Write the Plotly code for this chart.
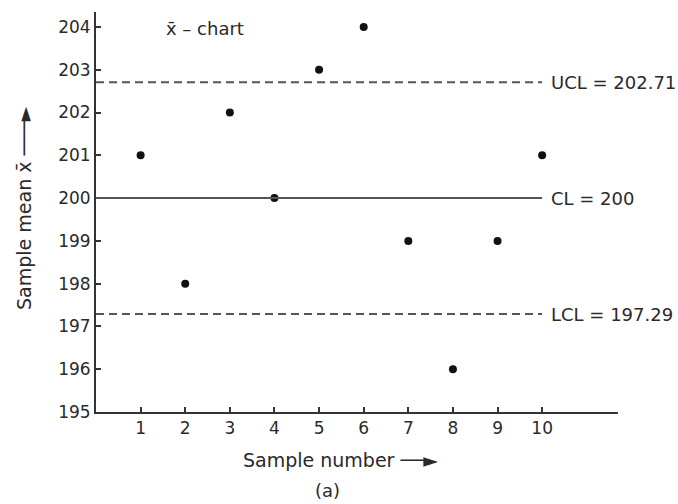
import plotly.graph_objects as go

samples = [1, 2, 3, 4, 5, 6, 7, 8, 9, 10]
means = [201, 198, 202, 200, 203, 204, 199, 196, 199, 201]
cl = 200
ucl = 202.71
lcl = 197.29
y_ticks = [195, 196, 197, 198, 199, 200, 201, 202, 203, 204]

FONT = "DejaVu Sans"
TXT = "#2a2a2a"

fig = go.Figure()
fig.add_trace(go.Scatter(
    x=samples, y=means, mode="markers",
    marker=dict(color="#111111", size=8),
    showlegend=False, hoverinfo="skip",
))

for val, dash, lab in [(ucl, "8px,5px", f"UCL = {ucl}"),
                       (cl, "solid", f"CL = {cl}"),
                       (lcl, "8px,5px", f"LCL = {lcl}")]:
    fig.add_shape(type="line", xref="x", yref="y", x0=0, x1=samples[-1],
                  y0=val, y1=val,
                  line=dict(color="#555555", width=2, dash=dash))
    fig.add_annotation(x=samples[-1] + 0.15, y=val, xref="x", yref="y",
                       text=lab, showarrow=False, xanchor="left", yanchor="middle",
                       font=dict(family=FONT, size=18, color=TXT))

fig.add_annotation(x=0.209, y=0.96, xref="paper", yref="paper",
                   xanchor="center", yanchor="middle",
                   text="x\u0304 \u2013 chart", showarrow=False,
                   font=dict(family=FONT, size=18, color=TXT))
fig.add_annotation(x=-0.138, y=0.51, xref="paper", yref="paper",
                   xanchor="center", yanchor="middle",
                   text="Sample mean x\u0304 \u2500\u2500\u2500\u25ba", showarrow=False,
                   textangle=-90,
                   font=dict(family=FONT, size=19, color=TXT))
fig.add_annotation(x=0.469, y=-0.12, xref="paper", yref="paper",
                   xanchor="center", yanchor="middle",
                   text="Sample number \u2500\u2500\u25ba", showarrow=False,
                   font=dict(family=FONT, size=19, color=TXT))
fig.add_annotation(x=0.444, y=-0.195, xref="paper", yref="paper",
                   xanchor="center", yanchor="middle",
                   text="(a)", showarrow=False,
                   font=dict(family=FONT, size=18, color=TXT))

fig.update_layout(
    width=678, height=504,
    margin=dict(l=96, r=60, t=12, b=92),
    paper_bgcolor="white", plot_bgcolor="white",
    font=dict(family=FONT, size=17, color=TXT),
)
fig.update_xaxes(
    range=[0, 11.7], tickvals=samples, ticktext=[str(s) for s in samples],
    ticks="inside", ticklen=5, tickwidth=1.5, tickcolor="#333333",
    showline=True, linecolor="#333333", linewidth=2,
    showgrid=False, zeroline=False, tickfont=dict(size=17),
)
fig.update_yaxes(
    range=[195, 204.35], tickvals=y_ticks,
    ticks="inside", ticklen=5, tickwidth=1.5, tickcolor="#333333",
    showline=True, linecolor="#333333", linewidth=2,
    showgrid=False, zeroline=False, tickfont=dict(size=17),
)

fig.write_html("out.html")
